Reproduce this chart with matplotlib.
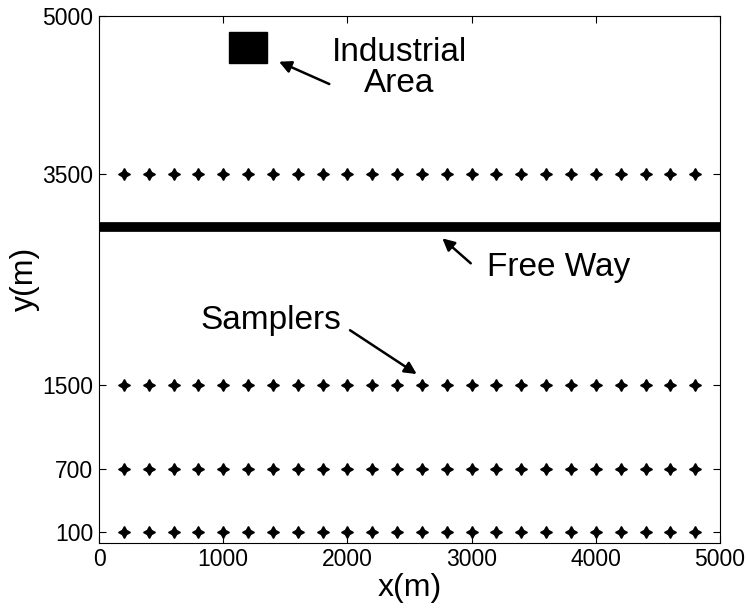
import matplotlib
matplotlib.use("Agg")
import matplotlib.pyplot as plt
from matplotlib.patches import Rectangle

plt.rcParams['font.family'] = ['Liberation Sans', 'DejaVu Sans']

# sampler grid
sampler_x = [200, 400, 600, 800, 1000, 1200, 1400, 1600, 1800, 2000, 2200, 2400,
             2600, 2800, 3000, 3200, 3400, 3600, 3800, 4000, 4200, 4400, 4600, 4800]
sampler_rows = [100, 700, 1500, 3500]

freeway_y = 3000
industrial_corner = (1050, 4550)
industrial_size = 300

x_ticks = [0, 1000, 2000, 3000, 4000, 5000]
y_ticks = [100, 700, 1500, 3500, 5000]

fig = plt.figure(figsize=(7.48, 6.12), dpi=100)
ax = fig.add_axes([0.1324, 0.1132, 0.8302, 0.8611])

for yr in sampler_rows:
    ax.plot(sampler_x, [yr] * len(sampler_x), linestyle='none',
            marker=(4, 1, 0), markersize=8.5, color='black')

ax.plot([0, 5000], [freeway_y, freeway_y], color='black', linewidth=7, solid_capstyle='butt')
ax.add_patch(Rectangle(industrial_corner, industrial_size, industrial_size,
                       facecolor='black', edgecolor='black'))

arrow = dict(arrowstyle='-|>', color='black', lw=1.8, mutation_scale=18, shrinkA=0, shrinkB=0)
ax.annotate('', xy=(1449, 4564), xytext=(1854, 4352), arrowprops=arrow)
ax.annotate('', xy=(2764, 2888), xytext=(2993, 2651), arrowprops=arrow)
ax.annotate('', xy=(2558, 1600), xytext=(2021, 2016), arrowprops=arrow)

ax.text(2420, 4500, 'Industrial\nArea', fontsize=24, ha='center', va='center',
        multialignment='center', linespacing=1.0)
ax.text(3124, 2611, 'Free Way', fontsize=24, ha='left', va='center')
ax.text(813, 2104, 'Samplers', fontsize=24, ha='left', va='center')

ax.set_xlim(0, 5000)
ax.set_ylim(0, 5000)
ax.set_xticks(x_ticks)
ax.set_yticks(y_ticks)
ax.tick_params(direction='in', top=True, right=True, length=5, labelsize=16.5, pad=4)
ax.set_xlabel('x(m)', fontsize=23, labelpad=1)
ax.set_ylabel('y(m)', fontsize=23, labelpad=2)

fig.savefig('out.png', dpi=100)
